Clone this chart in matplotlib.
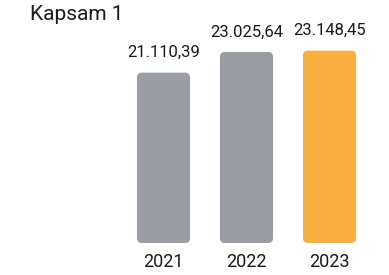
import matplotlib
matplotlib.use("Agg")
import matplotlib.pyplot as plt
from matplotlib.patches import FancyBboxPatch

# data
years = ["2021", "2022", "2023"]
values = [21110.39, 23025.64, 23148.45]
labels = ["21.110,39", "23.025,64", "23.148,45"]
colors = ["#9b9da4", "#9b9da4", "#f9b043"]

plt.rcParams["font.family"] = ["Roboto", "DejaVu Sans"]
TXT = "#1a1a1a"

W, H = 389, 275
base, top = 5300, 25990
fig = plt.figure(figsize=(W / 100, H / 100), dpi=100)
ax = fig.add_axes([122 / W, 32 / H, 249 / W, 223 / H])
ax.set_xlim(-0.5, 2.5)
ax.set_ylim(base, top)
ax.axis("off")

# px -> data scale, keeps the corner rounding circular
xpp = 3 / 249
ypp = (top - base) / 223
r = 5  # corner radius in px

bars = ax.bar(range(len(years)), values, width=0.64, color=colors)
for b, c in zip(bars, colors):
    b.set_visible(False)
    p = FancyBboxPatch((b.get_x(), base), b.get_width(), b.get_height() - base,
                       boxstyle="round,pad=0,rounding_size=%f" % (r * xpp),
                       mutation_aspect=ypp / xpp, fc=c, ec="none")
    ax.add_patch(p)

for i, (v, t) in enumerate(zip(values, labels)):
    ax.annotate(t, (i, v), xytext=(0, 9), textcoords="offset points",
                ha="center", va="bottom", fontsize=12, color=TXT)
    ax.annotate(years[i], (i, base), xytext=(0, -7), textcoords="offset points",
                ha="center", va="top", fontsize=13, color=TXT)

fig.text(30 / W, 1 - 5 / H, "Kapsam 1", ha="left", va="top", fontsize=15,
         color=TXT)

fig.savefig("out.png", dpi=100)
